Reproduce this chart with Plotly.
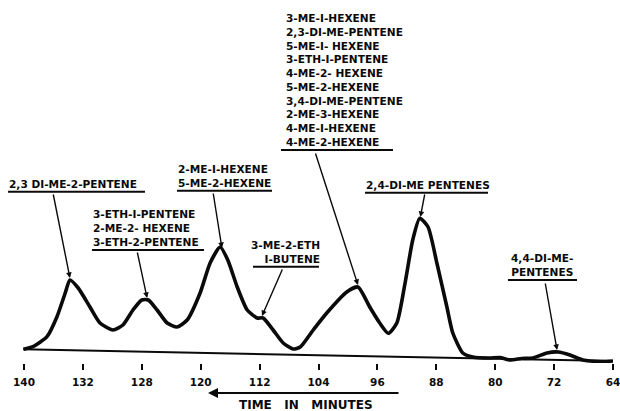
import numpy as np
import plotly.graph_objects as go

# ---- data -------------------------------------------------------------
# printed scale of the time axis (one division per tick)
TICK_LABELS = ["140", "132", "128", "120", "112", "104", "96", "88", "80", "72", "64"]
TICK_POS = list(range(len(TICK_LABELS)))

# recorder pen trace: position along the scale (divisions) and deflection
TRACE_X = [-0.01, 0.15, 0.39, 0.56, 0.70, 0.78, 0.92, 1.12, 1.29, 1.51,
           1.68, 1.85, 2.00, 2.11, 2.26, 2.43, 2.60, 2.77, 2.99, 3.16,
           3.33, 3.46, 3.62, 3.79, 3.96, 4.06, 4.23, 4.40, 4.57, 4.69,
           4.91, 5.14, 5.48, 5.67, 5.87, 6.04, 6.185, 6.33, 6.47, 6.60,
           6.72, 6.86, 7.01, 7.18, 7.28, 7.45, 7.62, 7.90, 8.08,
           8.25, 8.45, 8.64, 8.88, 9.07, 9.27, 9.49, 9.78, 10.00]
TRACE_Y = [13.7, 16.3, 26.3, 46.3, 70.0, 83.0, 75.0, 56.0, 40.0, 33.0,
           38.0, 53.0, 63.0, 63.0, 53.0, 40.0, 36.0, 43.0, 70.0, 100.0,
           116.0, 103.0, 76.0, 53.0, 45.0, 45.0, 33.0, 20.0, 14.0, 16.0,
           33.0, 50.0, 71.0, 76.0, 56.0, 40.0, 29.7, 40.0, 80.0, 123.0,
           144.7, 136.0, 100.0, 56.0, 30.0, 10.0, 6.0, 5.0, 5.5,
           3.0, 4.5, 5.0, 10.0, 11.0, 8.0, 3.0, 1.5, 2.0]

# sloping zero line drawn under the trace
BASELINE_X = [-0.01, 10.00]
BASELINE_Y = [13.7, 2.0]

# identified components and the scale position of the peak each belongs to
PEAK_LABELS = [
    ["2,3 DI-ME-2-PENTENE"],
    ["3-ETH-I-PENTENE", "2-ME-2- HEXENE", "3-ETH-2-PENTENE"],
    ["2-ME-I-HEXENE", "5-ME-2-HEXENE"],
    ["3-ME-2-ETH", "I-BUTENE"],
    ["3-ME-I-HEXENE", "2,3-DI-ME-PENTENE", "5-ME-I- HEXENE", "3-ETH-I-PENTENE",
     "4-ME-2- HEXENE", "5-ME-2-HEXENE", "3,4-DI-ME-PENTENE", "2-ME-3-HEXENE",
     "4-ME-I-HEXENE", "4-ME-2-HEXENE"],
    ["2,4-DI-ME PENTENES"],
    ["4,4-DI-ME-", "PENTENES"],
]
PEAK_POS = [0.78, 2.09, 3.36, 4.04, 5.67, 6.73, 9.05]

# ---- label layout (text anchor, underline span, leader tail) -------------
LABEL_ANCHOR = [(-0.272, "left"), (1.155, "left"), (2.598, "left"),
                (5.035, "right"), (4.431, "left"), (5.789, "left"),
                (8.795, "center")]
UNDERLINE = [(-0.272, 2.054, 171.3), (1.155, 3.056, 113.0), (2.598, 4.211, 172.3),
             (3.888, 5.008, 96.3), (4.363, 6.265, 213.0), (5.789, 7.878, 170.3),
             (8.217, 9.389, 83.0)]
LEADER_TAIL = [(0.492, 170.0), (1.919, 112.0), (3.209, 171.0), (4.397, 95.0),
               (4.941, 211.0), (6.808, 170.0), (8.846, 81.0)]

FONT = "DejaVu Sans"
INK = "#0a0a0a"

fig = go.Figure()

fig.add_trace(go.Scatter(
    x=BASELINE_X, y=BASELINE_Y, mode="lines",
    line=dict(color=INK, width=2), hoverinfo="skip", showlegend=False))

fig.add_trace(go.Scatter(
    x=TRACE_X, y=TRACE_Y, mode="lines",
    line=dict(color=INK, width=3.6, shape="spline", smoothing=0.6),
    showlegend=False))

head_y = np.interp(PEAK_POS, TRACE_X, TRACE_Y) + 2.0

annotations = []
shapes = []
for lines, pos, hy, (ax_, align), (u0, u1, uy), (tx, ty) in zip(
        PEAK_LABELS, PEAK_POS, head_y, LABEL_ANCHOR, UNDERLINE, LEADER_TAIL):
    annotations.append(dict(
        x=ax_, y=uy + 1.0, xref="x", yref="y",
        text="<br>".join(lines), showarrow=False,
        xanchor=align, yanchor="bottom", align=align, borderpad=0,
        font=dict(family=FONT, size=10.6, color=INK, weight="bold")))
    shapes.append(dict(
        type="line", xref="x", yref="y", x0=u0, x1=u1, y0=uy, y1=uy,
        line=dict(color=INK, width=2)))
    annotations.append(dict(
        x=pos, y=float(hy), xref="x", yref="y",
        ax=tx, ay=ty, axref="x", ayref="y", text="",
        showarrow=True, arrowhead=2, arrowsize=0.8, arrowwidth=1.4,
        arrowcolor=INK, standoff=0))

# direction-of-time arrow and axis caption below the scale
annotations.append(dict(
    x=208 / 620, y=-30 / 363, xref="paper", yref="paper",
    ax=192, ay=0, text="", showarrow=True, arrowhead=2,
    arrowsize=1.0, arrowwidth=2, arrowcolor=INK, standoff=0))
annotations.append(dict(
    x=306 / 620, y=-42 / 363, xref="paper", yref="paper",
    text="TIME   IN   MINUTES", showarrow=False,
    xanchor="center", yanchor="middle",
    font=dict(family=FONT, size=12, color=INK, weight="bold")))

fig.update_layout(
    width=620, height=411,
    margin=dict(l=0, r=0, t=0, b=48, pad=0),
    paper_bgcolor="white", plot_bgcolor="white",
    annotations=annotations, shapes=shapes,
    xaxis=dict(
        range=[-0.4075, 10.119], tickmode="array",
        tickvals=TICK_POS, ticktext=TICK_LABELS,
        ticks="outside", ticklen=6, tickwidth=2, tickcolor=INK,
        ticklabelstandoff=3, ticklabeloverflow="allow",
        tickfont=dict(family=FONT, size=10.5, color=INK, weight="bold"),
        showline=False, showgrid=False, zeroline=False, fixedrange=True),
    yaxis=dict(range=[0, 363], visible=False, fixedrange=True),
)

fig.write_html("out.html")
